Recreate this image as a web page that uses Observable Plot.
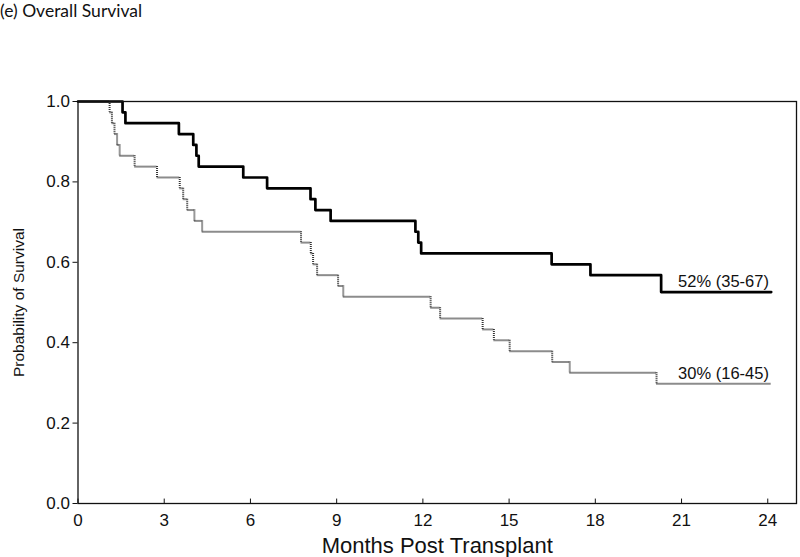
<!DOCTYPE html>
<html>
<head>
<meta charset="utf-8">
<script src="https://cdn.jsdelivr.net/npm/d3@7"></script>
<script src="https://cdn.jsdelivr.net/npm/@observablehq/plot@0.6"></script>
<style>
  html, body { margin: 0; padding: 0; background: #fff; }
  #wrap { position: relative; width: 800px; height: 557px; }
  #title { position: absolute; left: 0; top: 1px; font-family: "Lato", "Open Sans", sans-serif; font-size: 17.5px; color: #111; line-height: 20px; }
  svg { display: block; }
</style>
</head>
<body>
<div id="wrap"><div id="title">(e) Overall Survival</div></div>
<script>
// Black group (upper curve)
const blackTime = [0, 1.55, 1.65, 3.51, 4.01, 4.12, 4.20, 5.75, 6.58, 8.09, 8.26, 8.79, 11.74, 11.84, 11.94, 16.48, 17.83, 20.29, 24.12];
const blackSurv = [1.0, 0.973, 0.946, 0.919, 0.892, 0.865, 0.838, 0.811, 0.784, 0.757, 0.730, 0.703, 0.676, 0.649, 0.622, 0.595, 0.568, 0.526, 0.526];
// Gray group (lower curve)
const grayTime = [0, 1.10, 1.18, 1.27, 1.36, 1.45, 1.97, 2.75, 3.54, 3.66, 3.80, 4.05, 4.32, 7.76, 8.10, 8.18, 8.32, 9.05, 9.23, 12.27, 12.60, 14.08, 14.47, 15.02, 16.50, 17.11, 20.13, 24.12];
const graySurv = [1.0, 0.973, 0.946, 0.919, 0.892, 0.865, 0.838, 0.811, 0.784, 0.757, 0.730, 0.703, 0.676, 0.649, 0.622, 0.595, 0.568, 0.541, 0.514, 0.487, 0.460, 0.433, 0.406, 0.379, 0.352, 0.325, 0.298, 0.298];

const xTicks = [0, 3, 6, 9, 12, 15, 18, 21, 24];
const yTicks = [0, 0.2, 0.4, 0.6, 0.8, 1.0];
const xLabel = "Months Post Transplant";
const yLabel = "Probability of Survival";
const blackNote = "52% (35-67)";
const grayNote = "30% (16-45)";

const black = blackTime.map((t, i) => ({t, s: blackSurv[i]}));
const grayH = grayTime.slice(0, -1).map((t, i) => ({x1: t, x2: grayTime[i + 1], y: graySurv[i]}));
const grayV = grayTime.slice(1).map((t, i) => ({x: t, y1: graySurv[i], y2: graySurv[i + 1]})).filter(d => d.y1 !== d.y2);

const font = "Liberation Sans, Arial, sans-serif";

const chart = Plot.plot({
  width: 800,
  height: 557,
  marginLeft: 77.5,
  marginRight: 4,
  marginTop: 101,
  marginBottom: 54,
  style: {fontFamily: font, fontSize: "17px", color: "#111", background: "#fff"},
  x: {domain: [0, 25], ticks: xTicks},
  y: {domain: [0, 1], ticks: yTicks},
  marks: [
    Plot.axisY(yTicks, {tickSize: 5, tickPadding: 3, tickFormat: d3.format(".1f"), label: null, fontSize: 17, fontFamily: font, stroke: "#111"}),
    Plot.axisX(xTicks, {tickSize: 0, tickPadding: 10, label: null, fontSize: 17, fontFamily: font}),
    Plot.ruleX(xTicks, {x: d => d, y1: 0, y2: 0.011, stroke: "#111", strokeWidth: 1}),
    Plot.ruleY(grayH, {x1: "x1", x2: "x2", y: "y", stroke: "#8c8c8c", strokeWidth: 2}),
    Plot.ruleX(grayV, {x: "x", y1: "y1", y2: "y2", stroke: "#333", strokeWidth: 2, strokeDasharray: "1,1"}),
    Plot.line(black, {x: "t", y: "s", curve: "step-after", stroke: "#000", strokeWidth: 2.7}),
    Plot.frame({stroke: "#111", strokeWidth: 1.3}),
    Plot.text([blackNote], {x: blackTime[blackTime.length - 1] - 0.08, y: blackSurv[blackSurv.length - 1], text: d => d, textAnchor: "end", lineAnchor: "bottom", dy: -5, fontSize: 16.5, fontFamily: font, fill: "#111"}),
    Plot.text([grayNote], {x: grayTime[grayTime.length - 1] - 0.08, y: graySurv[graySurv.length - 1], text: d => d, textAnchor: "end", lineAnchor: "bottom", dy: -5, fontSize: 16.5, fontFamily: font, fill: "#111"}),
    Plot.text([yLabel], {frameAnchor: "left", dx: -59, rotate: -90, textAnchor: "middle", lineAnchor: "middle", text: d => d, fontSize: 15.5, fontFamily: font, fill: "#111"}),
    Plot.text([xLabel], {frameAnchor: "bottom", dy: 42, textAnchor: "middle", lineAnchor: "middle", text: d => d, fontSize: 22, fontFamily: font, fill: "#111"})
  ]
});
document.getElementById("wrap").appendChild(chart);
</script>
</body>
</html>
